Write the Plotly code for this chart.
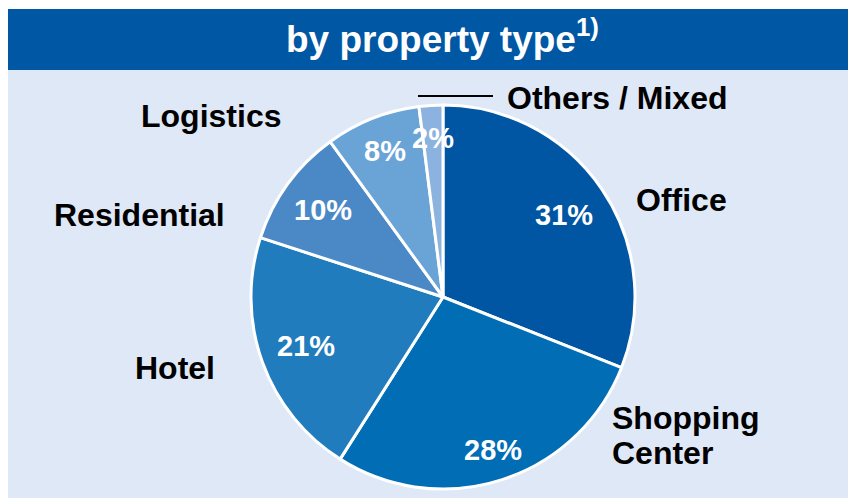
import math
import plotly.graph_objects as go

# ---- data ----
categories = ["Office", "Shopping Center", "Hotel", "Residential", "Logistics", "Others / Mixed"]
shares = [31, 28, 21, 10, 8, 2]
slice_colors = ["#0056a2", "#006db4", "#217cbe", "#4b89c6", "#6aa3d6", "#8cb3df"]
title_text = "by property type<sup>1)</sup>"

# ---- layout helpers (page has an 8px body margin) ----
OFF = 8
W, H = 856 - OFF, 502 - OFF
FONT = "Liberation Sans, Arial, sans-serif"

def px(x):
    return (x - OFF) / W

def py(y):
    return 1 - (y - OFF) / H

# pie geometry in window pixels
CX, CY, R = 443, 297, 192
label_radius = [0.76, 0.84, 0.76, 0.77, 0.82, 0.83]

fig = go.Figure()
fig.add_trace(go.Pie(
    labels=categories,
    values=shares,
    sort=False,
    direction="clockwise",
    rotation=0,
    marker=dict(colors=slice_colors, line=dict(color="white", width=3)),
    textinfo="none",
    hoverinfo="label+percent",
    showlegend=False,
    domain=dict(x=[px(CX - R), px(CX + R)], y=[py(CY + R), py(CY - R)]),
))

shapes = [
    dict(type="rect", xref="paper", yref="paper", x0=px(7), x1=px(856), y0=py(498), y1=py(70),
         fillcolor="#dfe8f6", line=dict(width=0), layer="below"),
    dict(type="rect", xref="paper", yref="paper", x0=px(7), x1=px(856), y0=py(70), y1=py(9),
         fillcolor="#0057a3", line=dict(width=0), layer="below"),
    dict(type="line", xref="paper", yref="paper", x0=px(418), x1=px(493), y0=py(96), y1=py(96),
         line=dict(color="black", width=2)),
]

def lab(text, x, y, xanchor="center"):
    return dict(text=f"<b>{text}</b>", x=px(x), y=py(y), xref="paper", yref="paper",
                xanchor=xanchor, yanchor="middle", showarrow=False,
                font=dict(family=FONT, size=32, color="black"), align="left")

shop_line1, shop_line2 = categories[1].split(" ")

annotations = [
    dict(text=f"<b>{title_text}</b>", x=px(442), y=py(37), xref="paper", yref="paper",
         xanchor="center", yanchor="middle", showarrow=False,
         font=dict(family=FONT, size=37, color="white")),
    lab(categories[5], 505, 98, "left"),
    lab(categories[0], 681, 200),
    lab(shop_line1, 610, 418, "left"),
    lab(shop_line2, 610, 453, "left"),
    lab(categories[2], 175, 368),
    lab(categories[3], 139, 215),
    lab(categories[4], 211, 116),
]

# percentage labels placed along each slice's bisector, derived from the data
total = sum(shares)
cum = 0
for v, rf in zip(shares, label_radius):
    mid = (cum + v / 2) / total * 2 * math.pi
    cum += v
    x = CX + rf * R * math.sin(mid)
    y = CY - rf * R * math.cos(mid)
    annotations.append(dict(text=f"<b>{v}%</b>", x=px(x), y=py(y), xref="paper", yref="paper",
                            xanchor="center", yanchor="middle", showarrow=False,
                            font=dict(family=FONT, size=29, color="white")))

fig.update_layout(
    width=W, height=H,
    margin=dict(l=0, r=0, t=0, b=0),
    paper_bgcolor="white",
    plot_bgcolor="white",
    shapes=shapes,
    annotations=annotations,
)

fig.write_html("out.html")
